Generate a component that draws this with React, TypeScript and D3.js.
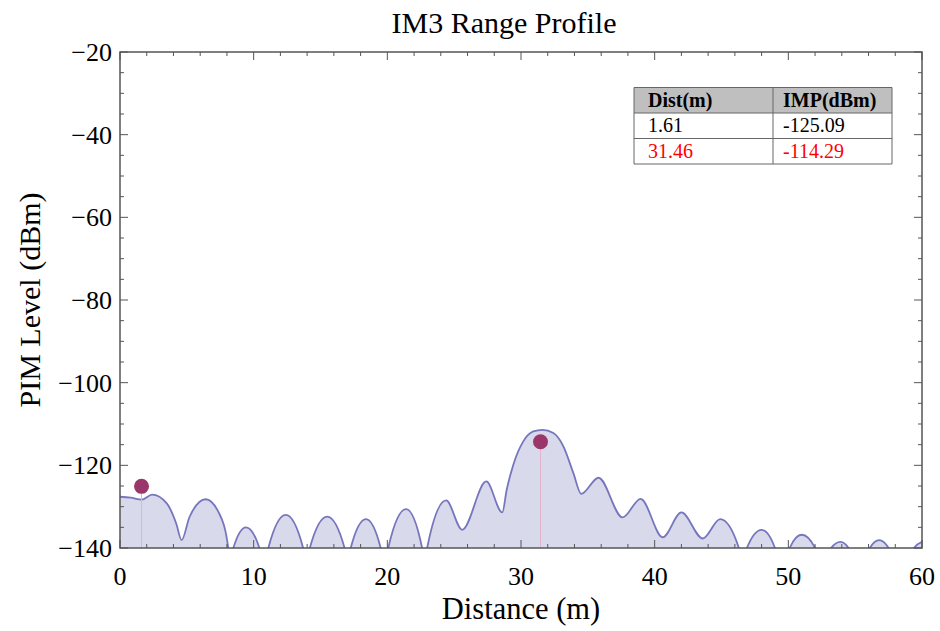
import { useEffect, useRef } from "react";
import * as d3 from "d3";

// profile: distance (m) and level (dBm); values below -140 are clipped nulls
const dist = [
  0, 0.8, 1.62, 2.4, 3.5, 4.2, 4.61, 5.2, 6.41, 7.4, 8.1, 8.29, 8.48, 9.43, 10.43, 10.77,
  11.1, 12.4, 13.7, 13.95, 14.2, 15.5, 16.8, 17.03, 17.26, 18.4, 19.5, 19.8, 20.07, 21.4,
  22.6, 22.8, 22.98, 24.4, 25.6, 27.4, 28.6, 28.93, 29.42, 30.17, 30.92, 31.6, 32.42, 33.17,
  33.92, 34.5, 35.8, 37.6, 38.95, 40.6, 42.0, 43.6, 44.9, 46.3, 46.6, 46.9, 48.0, 49.0,
  49.55, 50.1, 51.0, 52.0, 52.6, 53.2, 53.9, 54.5, 55.3, 56.1, 56.8, 57.5, 58.45, 59.4, 60,
];
const level = [
  -127.6, -127.8, -128.3, -127.1, -129.2, -134, -138.1, -132.5, -128.2, -131.5, -140, -146, -140, -135, -140, -147,
  -140, -132, -140, -146, -140, -132.4, -140, -146, -140, -133, -140, -146, -140, -130.6,
  -140, -145, -140, -128.5, -135.6, -123.9, -131.4, -125.9, -119.9, -114.2, -111.8, -111.4, -112.2, -115.4,
  -121.9, -126.9, -123, -132.6, -128.1, -137.4, -131.4, -137.7, -133, -140, -146, -140, -135.6, -140,
  -148, -140, -136.8, -140, -148, -140, -138.5, -140, -148, -140, -138.1, -140, -148, -140, -138.5,
];

// marked peaks (also shown in the table)
const peakDist = [1.61, 31.46];
const peakLevel = [-125.09, -114.29];
const tableHeader = ["Dist(m)", "IMP(dBm)"];
const tableRows = [
  ["1.61", "-125.09"],
  ["31.46", "-114.29"],
];
const rowColors = ["#000000", "#ff0000"];

const xTicks = [0, 10, 20, 30, 40, 50, 60];
const yTicks = [-20, -40, -60, -80, -100, -120, -140];

export default function App() {
  const ref = useRef<SVGSVGElement>(null);

  useEffect(() => {
    const svg = d3.select(ref.current);
    svg.selectAll("*").remove();

    const left = 120, top = 52, right = 922, bottom = 548;
    const x = d3.scaleLinear().domain([0, 60]).range([left, right]);
    const y = d3.scaleLinear().domain([-140, -20]).range([bottom, top]);
    const font = "'Liberation Serif', 'Times New Roman', serif";
    const minus = (v: number) => (v < 0 ? "\u2212" + Math.abs(v) : String(v));

    svg
      .append("defs")
      .append("clipPath")
      .attr("id", "plot-clip")
      .append("rect")
      .attr("x", left)
      .attr("y", top)
      .attr("width", right - left)
      .attr("height", bottom - top);

    const pts = dist.map((d, i) => [d, level[i]] as [number, number]);
    const plot = svg.append("g").attr("clip-path", "url(#plot-clip)");

    const area = d3
      .area<[number, number]>()
      .x((d) => x(d[0]))
      .y0(bottom)
      .y1((d) => y(d[1]))
      .curve(d3.curveMonotoneX);
    const line = d3
      .line<[number, number]>()
      .x((d) => x(d[0]))
      .y((d) => y(d[1]))
      .curve(d3.curveMonotoneX);

    plot.append("path").attr("d", area(pts)).attr("fill", "#d9d9ec");
    plot
      .append("path")
      .attr("d", line(pts))
      .attr("fill", "none")
      .attr("stroke", "#7676be")
      .attr("stroke-width", 1.8);

    // stems + markers
    peakDist.forEach((d, i) => {
      plot
        .append("line")
        .attr("x1", x(d))
        .attr("x2", x(d))
        .attr("y1", y(peakLevel[i]))
        .attr("y2", bottom)
        .attr("stroke", "#e2b4cc")
        .attr("stroke-width", 1);
      plot
        .append("circle")
        .attr("cx", x(d))
        .attr("cy", y(peakLevel[i]))
        .attr("r", 7.5)
        .attr("fill", "#9a3669");
    });

    // frame
    svg
      .append("rect")
      .attr("x", left)
      .attr("y", top)
      .attr("width", right - left)
      .attr("height", bottom - top)
      .attr("fill", "none")
      .attr("stroke", "#555")
      .attr("stroke-width", 1.5);

    const ticks = svg.append("g").attr("stroke", "#555").attr("stroke-width", 1);
    d3.range(0, 61, 2).forEach((v) => {
      const len = v % 10 === 0 ? 8 : 4;
      ticks.append("line").attr("x1", x(v)).attr("x2", x(v)).attr("y1", bottom).attr("y2", bottom - len);
      ticks.append("line").attr("x1", x(v)).attr("x2", x(v)).attr("y1", top).attr("y2", top + len);
    });
    d3.range(-140, -19, 5).forEach((v) => {
      const len = v % 20 === 0 ? 8 : 4;
      ticks.append("line").attr("x1", left).attr("x2", left + len).attr("y1", y(v)).attr("y2", y(v));
      ticks.append("line").attr("x1", right).attr("x2", right - len).attr("y1", y(v)).attr("y2", y(v));
    });

    svg
      .append("g")
      .selectAll("text")
      .data(xTicks)
      .enter()
      .append("text")
      .attr("x", (d) => x(d))
      .attr("y", 585)
      .attr("text-anchor", "middle")
      .style("font-family", font)
      .style("font-size", "26px")
      .text((d) => d);

    svg
      .append("g")
      .selectAll("text")
      .data(yTicks)
      .enter()
      .append("text")
      .attr("x", 112)
      .attr("y", (d) => y(d) + 9)
      .attr("text-anchor", "end")
      .style("font-family", font)
      .style("font-size", "26px")
      .text((d) => minus(d));

    svg
      .append("text")
      .attr("x", 504)
      .attr("y", 33)
      .attr("text-anchor", "middle")
      .style("font-family", font)
      .style("font-size", "30px")
      .text("IM3 Range Profile");

    svg
      .append("text")
      .attr("x", 521)
      .attr("y", 619)
      .attr("text-anchor", "middle")
      .style("font-family", font)
      .style("font-size", "30.5px")
      .text("Distance (m)");

    svg
      .append("text")
      .attr("transform", "translate(40,300) rotate(-90)")
      .attr("text-anchor", "middle")
      .style("font-family", font)
      .style("font-size", "30px")
      .text("PIM Level (dBm)");

    // value table
    const tx = 634, tw = [139, 119], ty = 87.5, rh = 25.5;
    const table = svg.append("g");
    table
      .append("rect")
      .attr("x", tx)
      .attr("y", ty)
      .attr("width", tw[0] + tw[1])
      .attr("height", rh)
      .attr("fill", "#bfbfbf");
    table
      .append("rect")
      .attr("x", tx)
      .attr("y", ty + rh)
      .attr("width", tw[0] + tw[1])
      .attr("height", rh * 2)
      .attr("fill", "#fff");
    const grid = table.append("g").attr("stroke", "#666").attr("stroke-width", 1);
    [0, 1, 2, 3].forEach((r) =>
      grid.append("line").attr("x1", tx).attr("x2", tx + tw[0] + tw[1]).attr("y1", ty + r * rh).attr("y2", ty + r * rh)
    );
    [tx, tx + tw[0], tx + tw[0] + tw[1]].forEach((cx) =>
      grid.append("line").attr("x1", cx).attr("x2", cx).attr("y1", ty).attr("y2", ty + rh * 3)
    );
    tableHeader.forEach((h, c) => {
      table
        .append("text")
        .attr("x", tx + (c === 0 ? 14 : tw[0] + 10))
        .attr("y", ty + 19)
        .style("font-family", font)
        .style("font-size", "20px")
        .style("font-weight", "bold")
        .text(h);
    });
    tableRows.forEach((row, r) => {
      row.forEach((cell, c) => {
        table
          .append("text")
          .attr("x", tx + (c === 0 ? 14 : tw[0] + 10))
          .attr("y", ty + rh * (r + 1) + 19)
          .attr("fill", rowColors[r])
          .style("font-family", font)
          .style("font-size", "20px")
          .text(cell);
      });
    });
  }, []);

  return (
    <svg
      ref={ref}
      width={940}
      height={631}
      style={{ position: "absolute", left: 0, top: 0, background: "#fff" }}
    />
  );
}
